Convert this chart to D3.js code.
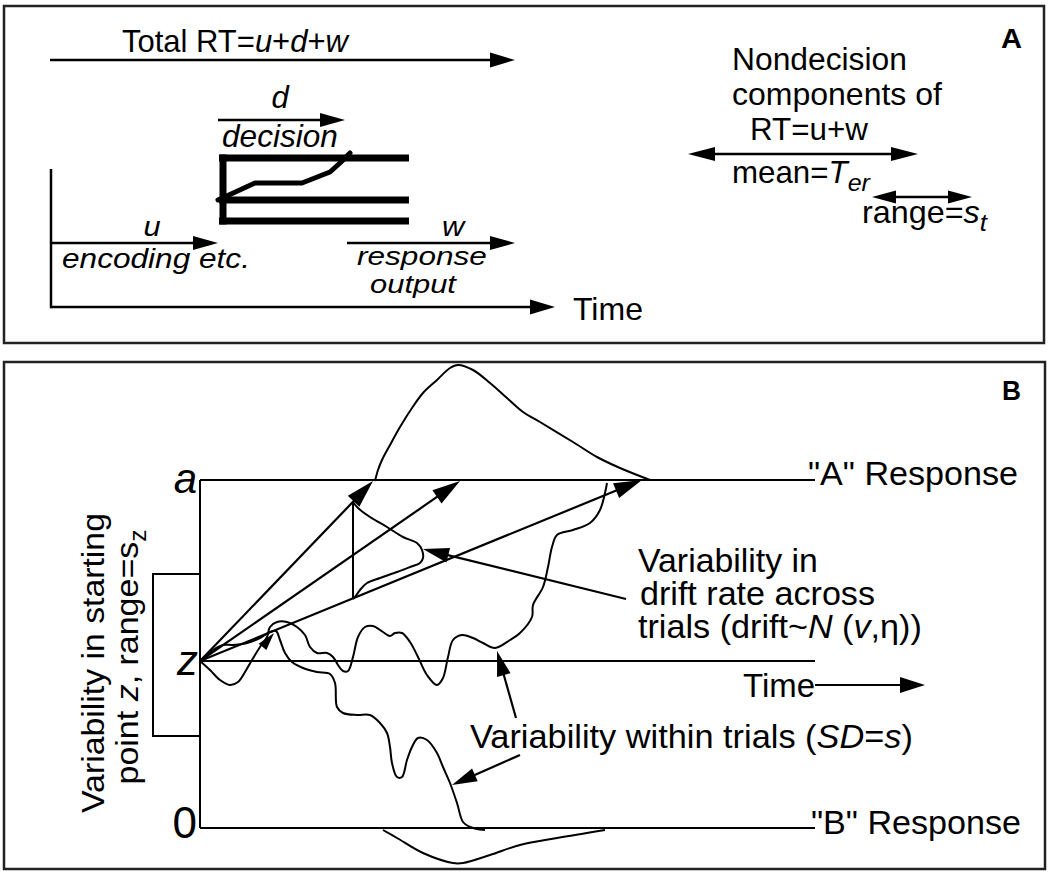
<!DOCTYPE html>
<html><head><meta charset="utf-8">
<script src="https://cdn.jsdelivr.net/npm/d3@7"></script>
<style>html,body{margin:0;padding:0;background:#fff;} svg{display:block;}</style>
</head><body>
<script>
// ---------------- DATA ----------------
// Panel A: t = time from the origin of the time axis, h = height above the time axis
const totalRTArrow   = [[-1, 247], [464, 247]];
const decisionArrow  = [[167, 187], [294, 187]];
const encodingArrow  = [[1, 64], [167, 64]];
const responseArrow  = [[296, 64], [464, 64]];
const boundaryHeights = [149, 107, 86];          // upper boundary, start point, lower boundary
const boundaryTimes   = [168, 358];
const boundaryWallT   = 172;
const decisionTrace  = [[167,107],[204,124],[251,124],[279,135],[289,144],[299,154]];
const timeAxisA      = [0, 504];
const valueAxisA     = [0, 138];
const terArrow       = [[637,153],[867,153]];
const stArrow        = [[821,110],[921,110]];

// Panel B: t = time from the start, e = evidence (0 = "B" boundary, a = "A" boundary)
const boundaryA = 348;
const startZ    = 167;
const timeEnd   = 615;
const szRange   = [92, 254];
const szBracketT = -47;
const driftTips = [[173,347],[260,347],[442,348]];
const driftSpreadT = 153;
const driftDensity = [[153,326],[158,320],[170,311],[187,301],[203,291],[217,285],[222,278],[223,270],[220,265],[210,261],[197,256],[180,250],[167,245],[160,238],[155,231],[153,229]];
const pathToA = [[0,167],[10,158],[20,148],[30,143],[38,146],[45,156],[52,168],[60,181],[67,191],[70,201],[77,206],[87,206],[97,201],[105,193],[110,181],[117,175],[127,175],[133,171],[138,163],[143,157],[148,157],[153,171],[158,191],[165,201],[173,202],[183,196],[190,192],[195,195],[202,195],[210,186],[218,171],[227,153],[237,143],[243,150],[248,171],[253,188],[262,193],[273,190],[283,185],[295,180],[310,188],[320,195],[332,211],[333,223],[343,241],[348,261],[352,281],[357,293],[373,298],[390,305],[400,318],[405,335],[407,345]];
const pathToB = [[0,167],[13,178],[23,183],[33,183],[47,185],[60,190],[70,196],[76,197],[80,188],[85,175],[92,166],[103,160],[117,156],[130,154],[135,145],[137,121],[143,115],[157,113],[170,113],[180,105],[187,95],[190,81],[192,65],[197,51],[202,51],[207,68],[212,81],[218,90],[227,88],[237,75],[243,61],[250,45],[257,25],[263,6],[270,1],[285,-2]];
const rtDensityA = [[175,347],[178,358],[182,368],[190,383],[200,401],[212,420],[223,435],[237,448],[250,460],[258,463],[273,458],[290,445],[307,430],[323,416],[340,406],[373,386],[397,371],[420,360],[450,348]];
const rtDensityB = [[183,-2],[197,-10],[223,-25],[253,-35],[263,-35],[290,-27],[320,-17],[357,-10],[405,-2]];
const timeArrowB = [[615,143],[725,143]];
const driftNote   = [[426,229],[223,279]];
const withinNote1 = [[316,110],[297,177]];
const withinNote2 = [[320,73],[252,43]];
const smallHead   = [[55,172],[74,195]];

// ---------------- DRAWING ----------------
const W = 1050, H = 873;
const FONT = "'Liberation Sans', Arial, Helvetica, sans-serif";
const svg = d3.select("body").append("svg").attr("width", W).attr("height", H);

const xA = d3.scaleLinear().domain([0, 504]).range([51, 555]);
const yA = d3.scaleLinear().domain([0, 300]).range([307, 7]);
const xB = d3.scaleLinear().domain([0, 615]).range([200, 815]);
const yB = d3.scaleLinear().domain([0, 348]).range([828, 480]);

function head(g, p0, p1, L, Wd) {
  const dx = p1[0]-p0[0], dy = p1[1]-p0[1], n = Math.hypot(dx, dy);
  const ux = dx/n, uy = dy/n;
  const bx = p1[0]-ux*L, by = p1[1]-uy*L;
  g.append("path").attr("d",
    `M${p1[0]},${p1[1]}L${bx-uy*Wd},${by+ux*Wd}L${bx+uy*Wd},${by-ux*Wd}Z`)
    .attr("fill", "#000").attr("stroke", "none");
}
function arrow(g, p0, p1, sw, L, Wd, both) {
  const dx = p1[0]-p0[0], dy = p1[1]-p0[1], n = Math.hypot(dx, dy);
  const ux = dx/n, uy = dy/n;
  const s = both ? [p0[0]+ux*L*0.5, p0[1]+uy*L*0.5] : p0;
  const e = [p1[0]-ux*L*0.5, p1[1]-uy*L*0.5];
  g.append("line").attr("x1", s[0]).attr("y1", s[1]).attr("x2", e[0]).attr("y2", e[1])
    .attr("stroke", "#000").attr("stroke-width", sw);
  head(g, p0, p1, L, Wd);
  if (both) head(g, p1, p0, L, Wd);
}
function label(g, x, y, parts, size, width, o = {}) {
  const t = g.append("text").attr("font-family", FONT).attr("font-size", size).attr("fill", "#000");
  if (o.bold) t.attr("font-weight", "bold");
  if (o.anchor) t.attr("text-anchor", o.anchor);
  parts.forEach(p => {
    const s = t.append("tspan").text(p.t);
    if (p.i) s.attr("font-style", "italic");
    if (p.sub) s.attr("font-size", size * (o.subScale || 0.72)).attr("dy", size * 0.25);
  });
  const len = t.node().getComputedTextLength();
  const sx = width ? width / len : (o.sx || 1);
  t.attr("transform", `translate(${x},${y}) rotate(${o.rot || 0}) scale(${sx},1)`);
  return t;
}
const P = (s) => [{t: s}];

// Frames
svg.append("rect").attr("x", 4).attr("y", 6).attr("width", 1040).attr("height", 337)
  .attr("fill", "none").attr("stroke", "#222").attr("stroke-width", 2.5);
svg.append("rect").attr("x", 4).attr("y", 362).attr("width", 1041).attr("height", 507)
  .attr("fill", "none").attr("stroke", "#222").attr("stroke-width", 2.5);

// ---------- Panel A ----------
const gA = svg.append("g");
const pA = d => [xA(d[0]), yA(d[1])];
gA.append("line").attr("x1", xA(0)).attr("x2", xA(0)).attr("y1", yA(valueAxisA[0]) + 1.25).attr("y2", yA(valueAxisA[1]))
  .attr("stroke", "#000").attr("stroke-width", 2.5);
arrow(gA, pA([timeAxisA[0], 0]), pA([timeAxisA[1], 0]), 2.5, 25, 7.5);
arrow(gA, pA(totalRTArrow[0]), pA(totalRTArrow[1]), 2.5, 25, 7.5);
arrow(gA, pA(decisionArrow[0]), pA(decisionArrow[1]), 2.5, 25, 7);
arrow(gA, pA(encodingArrow[0]), pA(encodingArrow[1]), 2.5, 25, 7);
arrow(gA, pA(responseArrow[0]), pA(responseArrow[1]), 2.5, 25, 7);
arrow(gA, pA(terArrow[0]), pA(terArrow[1]), 2.5, 27, 7, true);
arrow(gA, pA(stArrow[0]), pA(stArrow[1]), 2.5, 24, 6.5, true);
boundaryHeights.forEach(h => {
  gA.append("line").attr("x1", xA(boundaryTimes[0])).attr("x2", xA(boundaryTimes[1]))
    .attr("y1", yA(h)).attr("y2", yA(h)).attr("stroke", "#000").attr("stroke-width", 7);
});
gA.append("line").attr("x1", xA(boundaryWallT)).attr("x2", xA(boundaryWallT))
  .attr("y1", yA(boundaryHeights[0]) - 3.5).attr("y2", yA(boundaryHeights[2]) + 3.5)
  .attr("stroke", "#000").attr("stroke-width", 7);
gA.append("path").attr("d", d3.line().x(d => xA(d[0])).y(d => yA(d[1])).curve(d3.curveLinear)(decisionTrace))
  .attr("fill", "none").attr("stroke", "#000").attr("stroke-width", 5)
  .attr("stroke-linejoin", "round").attr("stroke-linecap", "round");

const FA = 31, FI = 28;
label(gA, 122, 52, [{t:"Total RT="},{t:"u",i:1},{t:"+"},{t:"d",i:1},{t:"+"},{t:"w",i:1}], FA, 226);
label(gA, 280, 108, [{t:"d",i:1}], FA, null, {anchor:"middle"});
label(gA, 222, 147, [{t:"decision",i:1}], FA, 116);
label(gA, 152, 236, [{t:"u",i:1}], FI, null, {anchor:"middle", sx:1.1});
label(gA, 62, 268, [{t:"encoding etc.",i:1}], FI, 188);
label(gA, 453, 236, [{t:"w",i:1}], FI, null, {anchor:"middle", sx:1.1});
label(gA, 357, 265, [{t:"response",i:1}], 25, 130);
label(gA, 370, 293, [{t:"output",i:1}], 25, 86);
label(gA, 573, 320, P("Time"), FA, 70);
label(gA, 1001, 48, P("A"), 28, 21, {bold:1});
label(gA, 732, 70, P("Nondecision"), FA, 175);
label(gA, 732, 105, P("components of"), FA, 210);
label(gA, 750, 140, P("RT=u+w"), FA, 118);
label(gA, 732, 183, [{t:"mean="},{t:"T",i:1},{t:"er",i:1,sub:1}], FA, 138, {subScale:0.8});
label(gA, 862, 223, [{t:"range="},{t:"s",i:1},{t:"t",i:1,sub:1}], FA, 125, {subScale:0.8});

// ---------- Panel B ----------
const gB = svg.append("g");
const pB = d => [xB(d[0]), yB(d[1])];
const lineB = d3.line().x(d => xB(d[0])).y(d => yB(d[1])).curve(d3.curveCatmullRom);
const thin = 2;
[boundaryA, startZ, 0].forEach(e => {
  gB.append("line").attr("x1", xB(0)).attr("x2", xB(timeEnd)).attr("y1", yB(e)).attr("y2", yB(e))
    .attr("stroke", "#000").attr("stroke-width", thin);
});
gB.append("line").attr("x1", xB(0)).attr("x2", xB(0)).attr("y1", yB(boundaryA)).attr("y2", yB(0))
  .attr("stroke", "#000").attr("stroke-width", thin);
gB.append("path").attr("d",
  `M${xB(0)},${yB(szRange[1])}H${xB(szBracketT)}V${yB(szRange[0])}H${xB(0)}`)
  .attr("fill", "none").attr("stroke", "#000").attr("stroke-width", thin);
driftTips.forEach(tp => arrow(gB, pB([0, startZ]), pB(tp), 2.2, 28, 8));
gB.append("line").attr("x1", xB(driftSpreadT)).attr("x2", xB(driftSpreadT))
  .attr("y1", yB(driftDensity[0][1])).attr("y2", yB(driftDensity[driftDensity.length-1][1]))
  .attr("stroke", "#000").attr("stroke-width", thin);
gB.append("path").attr("d", lineB(driftDensity)).attr("fill", "none").attr("stroke", "#000").attr("stroke-width", thin);
[pathToA, pathToB, rtDensityA, rtDensityB].forEach(d => {
  gB.append("path").attr("d", lineB(d)).attr("fill", "none").attr("stroke", "#000")
    .attr("stroke-width", thin).attr("stroke-linejoin", "round");
});
head(gB, pB(smallHead[0]), pB(smallHead[1]), 18, 5);
arrow(gB, pB(driftNote[0]), pB(driftNote[1]), 2.2, 26, 7.5);
arrow(gB, pB(withinNote1[0]), pB(withinNote1[1]), 2.2, 25, 7);
arrow(gB, pB(withinNote2[0]), pB(withinNote2[1]), 2.2, 25, 7);
arrow(gB, pB(timeArrowB[0]), pB(timeArrowB[1]), 2.2, 25, 8);

label(gB, 1002, 400, P("B"), 28, 19, {bold:1});
label(gB, 808, 485, P("\"A\" Response"), 33, 210);
label(gB, 811, 834, P("\"B\" Response"), 33, 210);
label(gB, 638, 572, P("Variability in"), 33, 180);
label(gB, 640, 605, P("drift rate across"), 33, 235);
label(gB, 638, 638, [{t:"trials (drift~"},{t:"N",i:1},{t:" ("},{t:"v",i:1},{t:",η))"}], 33, 284);
label(gB, 743, 697, P("Time"), 34, 72);
label(gB, 470, 748, [{t:"Variability within trials ("},{t:"SD",i:1},{t:"="},{t:"s",i:1},{t:")"}], 34, 443);
label(gB, 197, 493, [{t:"a",i:1}], 42, null, {anchor:"end"});
label(gB, 198, 675, [{t:"z",i:1}], 42, null, {anchor:"end"});
label(gB, 197, 838, P("0"), 44, null, {anchor:"end"});
label(gB, 104, 663, P("Variability in starting"), 32, 300, {anchor:"middle", rot:-90});
label(gB, 138, 657, [{t:"point "},{t:"z",i:1},{t:", range=s"},{t:"z",sub:1}], 32, 255, {anchor:"middle", rot:-90});
</script>
</body></html>
